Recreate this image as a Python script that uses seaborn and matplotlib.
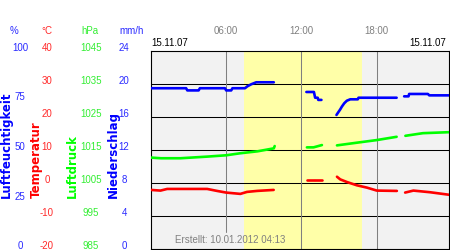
import numpy as np
import pandas as pd
import matplotlib
matplotlib.use("Agg")
import matplotlib.pyplot as plt
import seaborn as sns

# ---------------- data ----------------
time_ticks = [6, 12, 18]
time_labels = ["06:00", "12:00", "18:00"]
date_label = "15.11.07"
created_label = "Erstellt: 10.01.2012 04:13"
daylight = [7.45, 16.83]

hum_t = [0.0, 2.8, 2.9, 3.8, 3.9, 5.9, 6.0, 6.4, 6.5, 7.5, 7.7, 8.0, 8.4, 9.8, np.nan,
         12.4, 13.0, 13.1, 13.3, 13.35, 13.6, np.nan,
         14.8, 14.97, 15.1, 15.23, 15.42, 15.63, 15.9, 16.5, 16.56, 19.6, np.nan,
         20.2, 20.55, 20.6, 22.1, 22.2, 23.8]
hum_v = [81.2, 81.2, 80.1, 80.1, 81.2, 81.2, 80.1, 80.1, 81.2, 81.2, 82.2, 83.2, 84.2, 84.2, np.nan,
         79.3, 79.3, 76.4, 76.4, 75.3, 75.3, np.nan,
         67.7, 69.3, 70.5, 71.9, 73.6, 74.9, 75.6, 75.6, 76.4, 76.4, np.nan,
         77.1, 77.1, 78.3, 78.3, 77.6, 77.6]

temp_t = [0.0, 0.76, 1.29, 4.48, 5.27, 5.99, 7.13, 7.66, 8.46, 9.79, np.nan,
          12.44, 12.97, np.nan, 13.1, 13.64, np.nan,
          14.84, 15.1, 15.63, 16.43, 17.23, 18.02, 19.62, np.nan,
          20.28, 20.94, 22.27, 23.86]
temp_v = [-2.1, -2.3, -1.8, -1.8, -2.4, -2.9, -3.3, -2.7, -2.4, -2.1, np.nan,
          0.8, 0.8, np.nan, 0.8, 0.8, np.nan,
          1.9, 1.1, 0.3, -0.7, -1.4, -2.3, -2.4, np.nan,
          -2.9, -2.3, -2.8, -3.6]

pres_t = [0.0, 0.8, 2.35, 4.5, 6.0, 7.1, 8.5, 9.8, 9.87, np.nan,
          12.44, 12.97, 13.64, np.nan,
          14.84, 16.4, 18.0, 19.6, np.nan,
          20.3, 21.7, 23.8]
pres_v = [1012.7, 1012.5, 1012.5, 1013.0, 1013.4, 1014.0, 1014.6, 1015.5, 1016.2, np.nan,
          1015.8, 1015.8, 1016.5, np.nan,
          1016.4, 1017.2, 1018.0, 1019.0, np.nan,
          1019.3, 1020.1, 1020.4]

hum_ticks = [0, 25, 50, 75, 100]
temp_ticks = [-20, -10, 0, 10, 20, 30, 40]
pres_ticks = [985, 995, 1005, 1015, 1025, 1035, 1045]
prec_ticks = [0, 4, 8, 12, 16, 20, 24]

# ---------------- style ----------------
sns.set_style("white")
plt.rcParams["font.family"] = ["Liberation Sans", "DejaVu Sans"]

BLUE = "#0000ff"
RED = "#ff0000"
GREEN = "#00ff00"
TBLUE = "#2a2aff"
TRED = "#ff2a2a"
TGREEN = "#33ee33"
GRAY = "#808080"

W, H = 450, 250
fig = plt.figure(figsize=(4.5, 2.5), dpi=100)
fig.patch.set_facecolor("white")

L, R, T, B = 151, 449, 51, 249
ax = fig.add_axes([L / W, 1 - B / H, (R - L) / W, (B - T) / H])
ax.set_facecolor("#f2f2f2")
ax.set_ylim(temp_ticks[0], temp_ticks[-1])
ax.axvspan(daylight[0], daylight[1], color="#ffffa8", lw=0, zorder=1)
for y in temp_ticks[1:-1]:
    ax.axhline(y, color="black", lw=0.75, zorder=1.5)
for i, x in enumerate(time_ticks):
    ax.axvline(x, ymin=(0.086 if i == 0 else 0), color=GRAY, lw=0.75, zorder=1.5)
for s in ax.spines.values():
    s.set_visible(True)
    s.set_color("black")
    s.set_linewidth(0.8)
ax.set_yticks([])
ax.xaxis.set_ticks_position("top")
ax.set_xticks(time_ticks)
ax.set_xticklabels(time_labels)
ax.tick_params(axis="x", length=0, pad=11, labelsize=7, labelcolor=GRAY)


def make_twin(lo, hi, ticks, center_px, color):
    a = ax.twinx()
    a.set_ylim(lo, hi)
    for s in a.spines.values():
        s.set_visible(False)
    a.yaxis.set_ticks_position("left")
    a.yaxis.set_label_position("left")
    a.spines["left"].set_position(("outward", (L - center_px) * 72 / 100))
    a.set_yticks(ticks)
    a.set_yticklabels([str(t) for t in ticks])
    a.tick_params(axis="y", length=0, pad=0, labelsize=7, labelcolor=color)
    for lab in a.get_yticklabels():
        lab.set_ha("center")
        lab.set_va("baseline")
    return a


ax_h = make_twin(0, 100, hum_ticks, 20, TBLUE)
ax_t = make_twin(-20, 40, temp_ticks, 47, TRED)
ax_p = make_twin(985, 1045, pres_ticks, 91, TGREEN)
ax_r = make_twin(0, 24, prec_ticks, 124, TBLUE)


def frame(t, v):
    df = pd.DataFrame({"t": t, "v": v})
    df["seg"] = df["v"].isna().cumsum()
    return df.dropna()


for a, t, v, c in [(ax_t, temp_t, temp_v, RED), (ax_p, pres_t, pres_v, GREEN),
                   (ax_h, hum_t, hum_v, BLUE)]:
    sns.lineplot(data=frame(t, v), x="t", y="v", units="seg", estimator=None,
                 sort=False, color=c, lw=1.9, ax=a, legend=False)
    a.set_xlabel("")
    a.set_ylabel("")
    a.set_ylim(a.get_ylim())

ax.set_xlim(0, 23.78)
ax.set_xlabel("")

# ---------------- texts ----------------
def fy(py):
    return 1 - py / H

fig.text(L / W, fy(43), date_label, ha="left", va="center", fontsize=7, color="black")
fig.text(446 / W, fy(43), date_label, ha="right", va="center", fontsize=7, color="black")
fig.text(175 / W, fy(240), created_label, ha="left", va="center", fontsize=7, color=GRAY)

for x, s, c in [(14, "%", TBLUE), (47, "°C", TRED), (90, "hPa", TGREEN), (132, "mm/h", TBLUE)]:
    fig.text(x / W, fy(31), s, ha="center", va="center", fontsize=7, color=c)

for x, s, c in [(6, "Luftfeuchtigkeit", BLUE), (36, "Temperatur", RED),
                (72, "Luftdruck", GREEN), (113, "Niederschlag", BLUE)]:
    fig.text(x / W, fy(198), s, rotation=90, rotation_mode="anchor", ha="left",
             va="center", fontsize=8.5, fontweight="bold", color=c,
             family=["DejaVu Sans"])

fig.savefig("out.png", dpi=100)
